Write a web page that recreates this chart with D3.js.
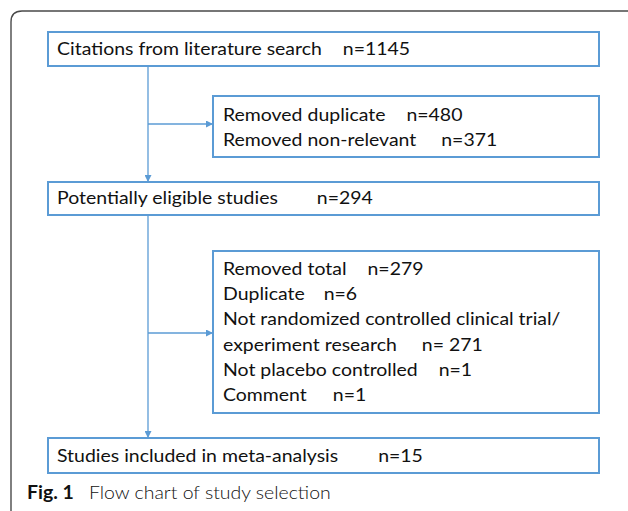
<!DOCTYPE html>
<html>
<head>
<meta charset="utf-8">
<script src="https://cdn.jsdelivr.net/npm/d3@7"></script>
<style>
  html, body { margin: 0; padding: 0; background: #fff; }
  svg { display: block; }
  text { font-family: Lato, "Open Sans", sans-serif; fill: #111; }
</style>
</head>
<body>
<div id="chart"></div>
<script>
// flow chart content
var mainSteps = ["Citations from literature search", "Potentially eligible studies", "Studies included in meta-analysis"],
    mainCounts = ["n=1145", "n=294", "n=15"],
    removed1 = ["Removed duplicate", "Removed non-relevant"],
    removed1Counts = ["n=480", "n=371"],
    removed2 = ["Removed total", "Duplicate", "Not randomized controlled clinical trial/", "experiment research", "Not placebo controlled", "Comment"],
    removed2Counts = ["n=279", "n=6", "", "n= 271", "n=1", "n=1"],
    captionBold = "Fig. 1",
    captionText = "Flow chart of study selection";

// layout
var width = 628, height = 511,
    boxLeft = 48, boxRight = 599, sideLeft = 213, trunkX = 148,
    mainY = [[32, 66], [182, 215], [438, 473]],
    sideY = [[96, 157], [251, 413]],
    branchY = [124, 333],
    blue = "#5b9bd5",
    fontSize = 18,
    mainGaps = [21, 39, 40],
    side1Gaps = [21, 25],
    side2Gaps = [21, 19, 0, 25, 21, 26];

var svg = d3.select("#chart").append("svg")
    .attr("width", width)
    .attr("height", height);

svg.append("defs").append("marker")
    .attr("id", "arrow")
    .attr("viewBox", "0 0 10 10")
    .attr("refX", 10).attr("refY", 5)
    .attr("markerWidth", 7).attr("markerHeight", 7)
    .attr("markerUnits", "userSpaceOnUse")
    .attr("orient", "auto")
  .append("path")
    .attr("d", "M0,0L10,5L0,10z")
    .attr("fill", blue);

// outer frame with rounded top-left corner running off the page
svg.append("path")
    .attr("d", "M11," + (height + 5) + "V22Q11,11 22,11H" + (width + 5))
    .attr("fill", "none")
    .attr("stroke", "#4a4a4a")
    .attr("stroke-width", 1.4);

// connectors
var trunk = svg.append("g").attr("stroke", blue).attr("stroke-width", 1.3).attr("fill", "none");
trunk.append("line").attr("x1", trunkX).attr("x2", trunkX).attr("y1", mainY[0][1]).attr("y2", mainY[1][0]).attr("marker-end", "url(#arrow)");
trunk.append("line").attr("x1", trunkX).attr("x2", trunkX).attr("y1", mainY[1][1]).attr("y2", mainY[2][0]).attr("marker-end", "url(#arrow)");
trunk.selectAll(".branch")
    .data(branchY)
    .enter().append("line")
        .attr("x1", trunkX).attr("x2", sideLeft)
        .attr("y1", function(d) { return d; })
        .attr("y2", function(d) { return d; })
        .attr("marker-end", "url(#arrow)");

// boxes
function box(x0, x1, y) {
    svg.append("rect")
        .attr("x", x0).attr("y", y[0])
        .attr("width", x1 - x0).attr("height", y[1] - y[0])
        .attr("fill", "#fff")
        .attr("stroke", blue)
        .attr("stroke-width", 2);
}
mainY.forEach(function(y) { box(boxLeft, boxRight, y); });
sideY.forEach(function(y) { box(sideLeft, boxRight, y); });

// the original face is narrower than Lato: squeeze horizontally to the reference width
var probe = svg.append("text").attr("font-size", fontSize).text(mainSteps[0]);
var sx = 265 / probe.node().getComputedTextLength();
probe.remove();

function put(x, y, str) {
    return svg.append("text")
        .attr("transform", "translate(" + x + "," + y + ") scale(" + sx + ",1)")
        .attr("font-size", fontSize)
        .text(str);
}

function lines(labels, counts, gaps, x, baselines) {
    labels.forEach(function(label, i) {
        var t = put(x, baselines[i], label);
        if (counts[i]) {
            var w = t.node().getComputedTextLength() * sx;
            put(x + w + gaps[i], baselines[i], counts[i]);
        }
    });
}

lines([mainSteps[0]], [mainCounts[0]], [mainGaps[0]], 57, [55]);
lines([mainSteps[1]], [mainCounts[1]], [mainGaps[1]], 57, [204]);
lines([mainSteps[2]], [mainCounts[2]], [mainGaps[2]], 57, [462]);
lines(removed1, removed1Counts, side1Gaps, 223, [121, 146]);
lines(removed2, removed2Counts, side2Gaps, 223, [275, 300, 325, 351, 376, 401]);

// caption
var cap = put(27, 499, "");
cap.append("tspan").attr("font-weight", "bold").text(captionBold);
cap.append("tspan").attr("dx", 14).attr("font-weight", 300).text(captionText);
</script>
</body>
</html>
